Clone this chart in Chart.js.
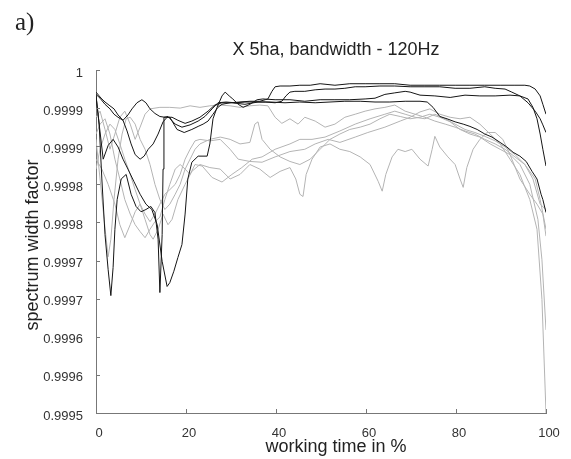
<!DOCTYPE html>
<html>
<head>
<meta charset="utf-8">
<script src="https://cdn.jsdelivr.net/npm/chart.js@4.4.1/dist/chart.umd.min.js"></script>
<style>
  html, body { margin: 0; padding: 0; background: #fff; }
  #wrap { width: 571px; height: 459px; }
</style>
</head>
<body>
<div id="wrap"><canvas id="chartA" width="571" height="459"></canvas></div>
<script>
// data: [working time %, spectrum width factor]
const xTicks = [0, 20, 40, 60, 80, 100];
const yTickValues = [0.99955, 0.9996, 0.99965, 0.9997, 0.99975, 0.9998, 0.99985, 0.9999, 0.99995, 1];
const yTickLabels = ['0.9995', '0.9996', '0.9996', '0.9997', '0.9997', '0.9998', '0.9998', '0.9999', '0.9999', '1'];

// black runs
const k1 = [[0,.999971],[0.7,.999966],[1.3,.999962],[2,.999958],[3.1,.999953],[4,.999949],[4.9,.999941],[6,.999934],[7.1,.999941],[8,.999949],
  [9.1,.999957],[10.2,.999961],[11.1,.999957],[12,.999949],[13.1,.999943],[14.2,.999939],[15.3,.999938],[16.4,.999938],[17.3,.999929],[18,.999922],
  [19.6,.999918],[21.3,.999922],[22.7,.999926],[23.8,.999929],[24.9,.999933],[26,.999942],[27.1,.999951],[28,.999955],[29.8,.999957],[32,.999958],
  [34.2,.999959],[36.4,.999959],[37.6,.999961],[38.2,.999962],[39.1,.999972],[39.8,.999978],[40.9,.999979],[43.1,.999979],[45.3,.99998],[47.6,.99998],
  [49.8,.999982],[53.1,.99998],[56.4,.999982],[59.8,.999982],[63.1,.999982],[66.4,.999982],[69.8,.99998],[73.1,.99998],[76.4,.99998],[79.8,.99998],
  [83.1,.99998],[86.4,.99998],[89.8,.99998],[93.1,.99998],[95.3,.99998],[96.4,.999979],[97.6,.999975],[98.7,.999966],[99.3,.999955],[100,.999942]];

const k2 = [[0,.999967],[0.7,.999929],[1.3,.999857],[2,.999784],[2.7,.999738],[3.3,.999704],[3.8,.999741],[4.2,.999791],[4.7,.99983],[5.6,.999857],
  [6.7,.999863],[7.8,.999837],[8.9,.999821],[10,.999814],[11.1,.999817],[12.2,.999821],[13.1,.999813],[13.8,.999778],[14.2,.999708],[14.7,.999784],
  [14.9,.99987],[15.1,.999938],[16,.999939],[17.6,.999929],[19.1,.999925],[20.9,.999928],[22.7,.999933],[24.2,.999939],[25.8,.999949],[27.1,.999957],
  [28.9,.999958],[30.9,.999957],[33.1,.999958],[35.3,.999958],[37.6,.999958],[39.8,.999957],[41.3,.999959],[42.2,.999966],[43.1,.999971],[44.2,.999972],
  [46.4,.999972],[48.7,.999974],[50.9,.999975],[53.1,.999975],[55.3,.999976],[57.6,.999978],[59.8,.999978],[63.1,.999979],[66.4,.999979],[69.8,.999978],
  [73.1,.999978],[76.4,.999978],[79.8,.999976],[83.1,.999976],[86.4,.999978],[88.7,.999976],[90.9,.999975],[92.4,.999971],[94.2,.999966],[96,.999957],
  [97.6,.999946],[98.7,.999936],[99.3,.999928],[100,.999918]];

const k3 = [[0,.999966],[0.7,.999929],[1.6,.999883],[2.7,.999901],[3.8,.999909],[4.9,.999899],[6,.999883],[7.1,.99987],[8.4,.999854],[9.8,.999837],
  [11.1,.999824],[12.4,.999817],[13.6,.999797],[14.7,.999749],[15.8,.999716],[16.4,.999721],[17.3,.999736],[18.2,.999754],[19.1,.999771],[19.8,.999811],
  [20.4,.999857],[21.3,.999879],[22.7,.999887],[24.7,.999887],[25.3,.999903],[26,.999936],[26.9,.999951],[28,.999966],[28.7,.999971],[29.6,.999966],
  [30.4,.999962],[31.6,.999955],[32.7,.999951],[34.2,.999955],[35.8,.999961],[37.1,.999962],[39.8,.999961],[43.1,.999961],[46.4,.999959],[49.8,.999961],
  [53.1,.999961],[56.4,.999961],[59.8,.999962],[62,.999963],[64.2,.999968],[66.4,.99997],[68.7,.999972],[69.8,.999971],[72,.999967],[75.3,.999966],
  [78.7,.999964],[82,.999967],[85.3,.999966],[88.7,.999966],[92,.999967],[94.2,.999966],[96,.999962],[97.1,.999951],[98,.999936],[98.7,.999916],
  [99.3,.999896],[100,.999874]];

const k4 = [[0,.999968],[0.9,.999963],[2,.999955],[3.1,.999949],[4,.999942],[4.9,.999938],[6,.999934],[6.9,.99992],[7.8,.999903],[8.7,.999889],
  [9.8,.999883],[10.7,.999887],[11.6,.999896],[12.7,.999903],[13.8,.999916],[14.9,.999932],[15.8,.999938],[16.9,.999938],[18.2,.999934],[19.8,.99993],
  [21.3,.999933],[23.1,.999938],[24.9,.999946],[26.4,.999954],[28,.999957],[30.2,.999957],[33.1,.999955],[36,.999958],[38.7,.999958],[42,.999957],
  [45.3,.999958],[48.7,.999957],[52,.999958],[55.3,.999959],[58.7,.999959],[62,.999958],[65.3,.999958],[68.7,.999959],[72,.999959],[73.6,.999958],
  [74.9,.999951],[76.4,.999939],[78,.999936],[79.8,.999932],[81.6,.999929],[83.1,.999926],[84.7,.999922],[86.4,.999916],[88,.999912],[89.8,.999905],
  [91.3,.999899],[92.7,.999892],[94.2,.999887],[95.6,.99988],[96.9,.999867],[98,.999857],[98.9,.999837],[99.3,.99983],[100,.999813]];

// grey runs
const g1 = [[0,.999938],[0.9,.999946],[2,.999922],[3.1,.999896],[4.2,.999916],[5.3,.999938],[6.4,.999946],[7.6,.999929],[8.7,.999909],[9.8,.999925],
  [10.9,.999942],[12,.999949],[14.2,.999951],[16.4,.999951],[18.7,.99995],[20.9,.999953],[23.1,.999951],[25.3,.999953],[27.6,.999954],[29.8,.999953],
  [32,.999951],[34.2,.999953],[36.4,.999954],[38.2,.999953],[39.8,.999938],[41.3,.99993],[43.1,.999936],[44.9,.999929],[46.4,.999938],[48.7,.999933],
  [50.9,.999925],[53.1,.999929],[55.3,.999938],[57.6,.999942],[59.8,.999946],[62,.999949],[64.2,.999951],[66.4,.999954],[68.7,.999946],[70.9,.999942],
  [73.1,.999938],[75.3,.999933],[77.6,.999929],[79.8,.999925],[82,.99992],[84.2,.999916],[86.4,.999909],[88.7,.999903],[90.9,.999896],[93.1,.999886],
  [95.3,.999876],[97.6,.999857],[98.7,.99983],[100,.999791]];

const g2 = [[0,.999909],[0.9,.999857],[1.8,.999804],[2.7,.999755],[3.3,.999778],[4,.99983],[4.9,.999883],[5.8,.999916],[6.7,.999936],[7.6,.999938],
  [8.7,.999929],[9.8,.999909],[10.9,.999896],[12,.999876],[13.1,.99985],[14.2,.99983],[15.3,.999817],[16.4,.999824],[17.6,.999837],[18.7,.99985],
  [19.8,.99987],[20.9,.999883],[22,.999896],[23.1,.999903],[25.3,.999909],[27.6,.999912],[29.8,.999909],[32,.999903],[34.2,.999905],[35.3,.999929],
  [36,.999932],[36.9,.999909],[38.7,.999896],[40.9,.999886],[43.1,.99988],[45.3,.999876],[47.6,.999883],[49.8,.999896],[52,.999909],[54.2,.999916],
  [56.4,.999922],[58.7,.999925],[60.9,.999929],[63.1,.999936],[65.3,.999942],[67.6,.999939],[69.8,.999936],[72,.999938],[74.2,.999942],[76.4,.999938],
  [78.7,.999932],[80.9,.999922],[83.1,.999916],[85.3,.999912],[87.6,.999903],[89.8,.999896],[92,.999889],[94.2,.999876],[96.4,.99985],[98.2,.999804],
  [99.1,.999751],[100,.999659]];

const g3 = [[0,.999883],[1.3,.99987],[2.7,.99985],[4.2,.999824],[5.3,.999797],[6.4,.99978],[7.6,.999797],[8.7,.999814],[9.8,.999824],[10.9,.999804],
  [12,.999784],[12.7,.999778],[13.8,.999791],[14.9,.999811],[16,.999797],[16.9,.999804],[18.2,.99983],[19.8,.99985],[21.3,.999867],[23.1,.999876],
  [25.3,.999872],[27.6,.99987],[29.8,.999857],[32,.999863],[34.2,.999876],[36.4,.99987],[38.7,.999859],[40.9,.999867],[43.1,.999872],[44.4,.999857],
  [45.3,.999837],[46,.999834],[46.7,.999863],[48,.999883],[49.8,.999899],[52,.999903],[54.2,.999896],[56.4,.999893],[58.7,.999886],[60.9,.999876],
  [62.7,.999854],[63.6,.999841],[64.4,.999863],[65.8,.999886],[67.1,.999896],[68.7,.999893],[70.2,.999896],[72,.999883],[73.8,.999874],[74.7,.999896],
  [75.3,.999913],[76.4,.999899],[78.2,.999886],[79.8,.999876],[80.9,.999857],[81.6,.999846],[82.4,.999872],[83.8,.999896],[85.3,.999909],[86.9,.999918],
  [88.7,.999918],[90.4,.999909],[92,.999889],[94.2,.999857],[96.4,.999837],[98,.999824],[99.3,.999811],[100,.999782]];

const g4 = [[0,.99987],[0.9,.999896],[2,.999916],[3.1,.999929],[4.2,.999922],[5.3,.999903],[6.4,.999883],[7.6,.999863],[8.7,.999843],[9.8,.999824],
  [10.9,.999811],[12,.999801],[13.1,.999811],[14.2,.999824],[15.3,.999837],[16.4,.999843],[17.6,.99985],[18.7,.999863],[19.8,.999883],[20.9,.999896],
  [22,.999907],[23.1,.999909],[25.3,.999907],[27.6,.999909],[29.8,.999896],[31.6,.999883],[34.2,.99988],[36.9,.999879],[39.8,.999886],[43.1,.999893],
  [46.4,.999896],[48.7,.999903],[51.6,.999909],[54.2,.999905],[57.6,.999912],[60.4,.999918],[64.2,.999925],[67.6,.999933],[69.8,.999938],[72,.999945],
  [74.2,.999949],[76.4,.999942],[78.7,.999938],[80.9,.999936],[83.1,.999938],[85.3,.999929],[87.6,.999916],[89.8,.999903],[92,.999883],[94.2,.999863],
  [96.4,.99983],[98,.999791],[99.1,.999699],[100,.99955]];

const g5 = [[0,.999916],[0.9,.999929],[2,.999936],[3.1,.999916],[4.2,.999883],[5.3,.999857],[6.4,.99983],[7.6,.999811],[8.7,.999797],[9.8,.999788],
  [10.9,.99978],[12,.999791],[13.1,.999801],[14.2,.999807],[15.3,.99983],[16.4,.99985],[17.6,.99987],[18.7,.999876],[19.8,.99987],[20.9,.999863],
  [22,.999876],[23.6,.999874],[25.8,.999859],[28,.999853],[30.2,.999863],[32.4,.999872],[34.7,.999883],[36.9,.999886],[39.8,.999896],[43.1,.999903],
  [45.3,.999909],[48,.999909],[50.9,.999912],[54.2,.99992],[57.6,.999929],[60.9,.999936],[64.2,.999942],[66.4,.999946],[68.7,.999942],[70.9,.999938],
  [73.1,.999936],[75.3,.999942],[77.6,.999936],[79.8,.999929],[82,.999922],[84.2,.999918],[86.4,.999913],[88.7,.999907],[90.9,.999899],[93.1,.999889],
  [95.3,.999876],[97.1,.999857],[98.7,.999824],[100,.999817]];

const blackRuns = [k1, k2, k3, k4];
const greyRuns = [g1, g2, g3, g4, g5];

function toLine(run, color) {
  return {
    data: run.map(p => ({ x: p[0], y: p[1] })),
    borderColor: color,
    borderWidth: 1,
    pointRadius: 0,
    tension: 0,
    fill: false
  };
}

// black first so they sit on top
const datasets = blackRuns.map(r => toLine(r, '#151515'))
  .concat(greyRuns.map(r => toLine(r, '#b4b4b4')));

const textFont = '"Liberation Sans", Arial, sans-serif';

const labelsPlugin = {
  id: 'labels',
  afterDraw(chart) {
    const { ctx, chartArea, scales: { x, y } } = chart;
    ctx.save();
    // inward tick marks
    ctx.strokeStyle = '#777';
    ctx.lineWidth = 1;
    ctx.beginPath();
    x.ticks.forEach(t => {
      const px = Math.round(x.getPixelForValue(t.value)) + 0.5;
      ctx.moveTo(px, chartArea.bottom);
      ctx.lineTo(px, chartArea.bottom - 4);
    });
    y.ticks.forEach(t => {
      const py = Math.round(y.getPixelForValue(t.value)) + 0.5;
      ctx.moveTo(chartArea.left, py);
      ctx.lineTo(chartArea.left + 4, py);
    });
    ctx.stroke();

    ctx.fillStyle = '#222';
    ctx.font = '25px "Liberation Serif", "Times New Roman", serif';
    ctx.textAlign = 'left';
    ctx.textBaseline = 'alphabetic';
    ctx.fillText('a)', 15, 30);

    ctx.font = '18px ' + textFont;
    ctx.textAlign = 'center';
    ctx.textBaseline = 'middle';
    ctx.fillText('X 5ha, bandwidth - 120Hz', 336, 50);
    ctx.fillText('working time in %', 336, 447);

    ctx.translate(33, 245);
    ctx.rotate(-Math.PI / 2);
    ctx.fillText('spectrum width factor', 0, 0);
    ctx.restore();
  }
};

const config = {
  type: 'line',
  data: { datasets: datasets },
  options: {
    responsive: false,
    animation: false,
    devicePixelRatio: 1,
    layout: { padding: { top: 70, right: 25, left: 0, bottom: 0 } },
    plugins: {
      legend: { display: false },
      tooltip: { enabled: false },
      title: { display: false }
    },
    scales: {
      x: {
        type: 'linear',
        min: 0,
        max: 100,
        afterFit: s => { s.height = 46; },
        afterBuildTicks: s => { s.ticks = xTicks.map(v => ({ value: v })); },
        grid: { display: false },
        border: { display: true, color: '#777', width: 1 },
        ticks: {
          padding: 5,
          labelOffset: 3,
          color: '#333',
          maxRotation: 0,
          font: { family: textFont, size: 13 }
        }
      },
      y: {
        type: 'linear',
        min: 0.99955,
        max: 1,
        afterFit: s => { s.width = 96; },
        afterBuildTicks: s => { s.ticks = yTickValues.map(v => ({ value: v })); },
        grid: { display: false },
        border: { display: true, color: '#777', width: 1 },
        ticks: {
          padding: 5,
          labelOffset: 3,
          color: '#333',
          font: { family: textFont, size: 13 },
          callback: (v, i) => yTickLabels[i]
        }
      }
    }
  },
  plugins: [labelsPlugin]
};

const chartA = new Chart(document.getElementById('chartA'), config);
</script>
</body>
</html>
